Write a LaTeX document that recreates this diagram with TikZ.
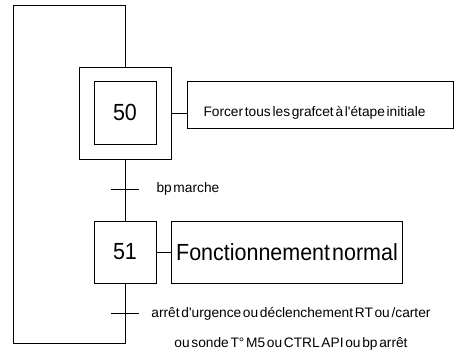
\documentclass[tikz,border=0pt]{standalone}
\usepackage{fontspec}
\setmainfont{Liberation Sans}
\newfontfamily\grafbig[FakeStretch=0.92,WordSpace=0.35]{Liberation Sans}
\newfontfamily\grafsmall[WordSpace=0.45]{Liberation Sans}
\usetikzlibrary{positioning}
\tikzset{
  etape/.style={draw, inner sep=0pt, minimum width=46.5pt, minimum height=46.5pt, font=\grafbig\fontsize{17.5}{21}\selectfont},
  action/.style={draw, inner sep=0pt, font=\grafbig\fontsize{17.5}{21}\selectfont},
  recept/.style={inner sep=0pt, font=\grafsmall\fontsize{10.3}{22.5}\selectfont},
}

\begin{document}
\begin{tikzpicture}[x=0.75pt, y=-0.75pt, line width=0.75pt]
\useasboundingbox (0,0) rectangle (457,354);
% etape initiale 50
\node[etape, minimum width=69pt, minimum height=69pt] (s50o) at (125,113) {};
\node[etape, minimum height=47.25pt] (s50) at (125,112.5) {50};
\node[action, minimum width=199.5pt, minimum height=35.25pt] (a50) at (320,104.5) {};
\node[recept, anchor=west] (a50txt) at (203,113) {Forcer tous les grafcet à l'étape initiale};
\draw (s50o.east) -- (s50o.east -| a50.west);
% etape 51
\node[etape] (s51) at (125,252) {51};
\node[action, minimum width=173.25pt, minimum height=46.5pt] (a51) at (287,252) {Fonctionnement normal};
\draw (s51.east) -- (a51.west);
% liaisons
\coordinate (t1) at (125,189);
\coordinate (t2) at (125,313);
\coordinate (loopbot) at (13,343);
\coordinate (looptop) at (13,5);
\draw (s50o.south) -- (s51.north);
\draw (s51.south) |- (loopbot) -- (looptop) -| (s50o.north);
% receptivites
\draw ([xshift=-10.5pt]t1) -- ([xshift=10.5pt]t1);
\node[recept, anchor=west] (r1) at (156,189) {bp marche};
\draw ([xshift=-10.5pt]t2) -- ([xshift=10.5pt]t2);
\node[recept, align=center] (r2) at (291,329) {arrêt d'urgence ou déclenchement RT ou /carter\\ou sonde T° M5 ou CTRL API ou bp arrêt};
\end{tikzpicture}
\end{document}
